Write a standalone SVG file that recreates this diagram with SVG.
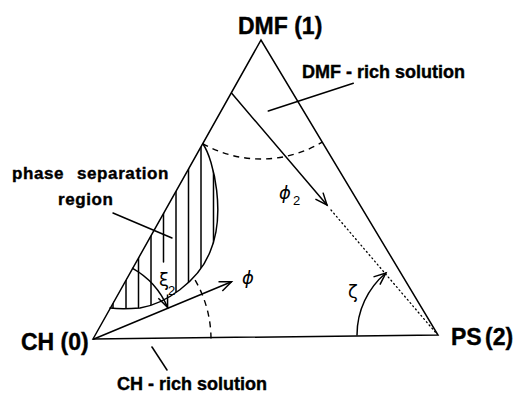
<svg xmlns="http://www.w3.org/2000/svg" width="514" height="395" viewBox="0 0 514 395">
<defs>
<style>
.ln{fill:none;stroke:#000;stroke-width:1.5;stroke-linecap:round}
.dash{fill:none;stroke:#000;stroke-width:1.4;stroke-dasharray:6 5}
.dot{fill:none;stroke:#000;stroke-width:1.3;stroke-dasharray:1 3.2;stroke-linecap:round}
.big{font-family:"Liberation Sans",Arial,sans-serif;font-weight:bold;font-size:23px;fill:#000;stroke:#000;stroke-width:0.4}
.lab{font-family:"Liberation Sans",Arial,sans-serif;font-weight:bold;font-size:18px;fill:#000;stroke:#000;stroke-width:0.4}
.lab2{font-family:"Liberation Sans",Arial,sans-serif;font-weight:bold;font-size:17px;letter-spacing:0.6px;fill:#000;stroke:#000;stroke-width:0.4}
.gr{font-family:"DejaVu Sans",sans-serif;font-size:18px;fill:#000}
.sub{font-family:"Liberation Sans",Arial,sans-serif;font-size:13px;fill:#000}
</style>
<marker id="ah" markerUnits="userSpaceOnUse" markerWidth="14" markerHeight="10" refX="12" refY="5" orient="auto" overflow="visible">
<path d="M0,0 L12,5 L0,10" fill="none" stroke="#000" stroke-width="1.5"/>
</marker>
<clipPath id="reg">
<path d="M203,144 C214,160 226,215 210,252 C198,282 165,304 140,308 C128,309 118,309 110,308 Z"/>
</clipPath>
</defs>
<rect width="514" height="395" fill="#fff"/>

<g id="triangle">
<path class="ln" d="M93,339 L261,40 L438,335 Z" stroke-linejoin="miter"/>
</g>

<g id="phase-region">
<path class="ln" d="M203,144 C214,160 226,215 210,252 C198,282 165,304 140,308 C128,309 118,309 110,308"/>
<g clip-path="url(#reg)" class="ln" stroke-width="1.2">
<line x1="113" y1="140" x2="113" y2="315"/>
<line x1="126" y1="140" x2="126" y2="315"/>
<line x1="138.5" y1="140" x2="138.5" y2="315"/>
<line x1="151" y1="140" x2="151" y2="315"/>
<line x1="163.5" y1="140" x2="163.5" y2="262"/>
<line x1="176" y1="140" x2="176" y2="315"/>
<line x1="188.5" y1="140" x2="188.5" y2="315"/>
<line x1="201" y1="140" x2="201" y2="315"/>
<line x1="213.5" y1="140" x2="213.5" y2="315"/>
</g>
</g>

<g id="arcs">
<path class="dash" d="M202.7,143.7 A119,119 0 0 0 322.2,142.1"/>
<path class="dash" d="M211,338.4 A118,118 0 0 0 194,278.2"/>
</g>

<g id="connectors">
<line class="ln" x1="231.7" y1="93.3" x2="327" y2="205" marker-end="url(#ah)"/>
<line class="dot" x1="331" y1="210" x2="436" y2="333"/>
<line class="ln" x1="93.3" y1="339.3" x2="231.5" y2="281.8" marker-end="url(#ah)"/>
<path class="ln" d="M132.6,268.3 A81,81 0 0 1 167.6,307.4" marker-end="url(#ah)"/>
<path class="ln" d="M357,335 A81,81 0 0 1 385.9,273" marker-end="url(#ah)"/>
<line class="ln" x1="353.3" y1="83.3" x2="268.3" y2="111"/>
<line class="ln" x1="113" y1="213" x2="172" y2="238"/>
<line class="ln" x1="152" y1="347" x2="167" y2="370"/>
</g>

<g id="label-dmf"><text class="big" x="238" y="33.5">DMF (1)</text></g>
<g id="label-ch"><text class="big" x="21" y="350">CH (0)</text></g>
<g id="label-ps"><text class="big" x="451" y="345" word-spacing="-3">PS (2)</text></g>
<g id="label-dmf-rich"><text class="lab" x="302" y="78">DMF - rich solution</text></g>
<g id="label-ch-rich"><text class="lab" x="117" y="390">CH - rich solution</text></g>
<g id="label-phase"><text class="lab2" x="12" y="179">phase <tspan x="77">separation</tspan></text><text class="lab2" x="58" y="205">region</text></g>
<g id="label-phi2"><text class="gr" x="279" y="199" font-style="italic" font-size="21">ϕ</text><text class="sub" x="293" y="205">2</text></g>
<g id="label-phi"><text class="gr" x="242" y="284" font-style="italic" font-size="21">ϕ</text></g>
<g id="label-xi2"><text class="gr" x="159" y="286">ξ</text><text class="sub" x="168" y="295">2</text></g>
<g id="label-zeta"><text class="gr" x="348" y="298">ζ</text></g>
</svg>
